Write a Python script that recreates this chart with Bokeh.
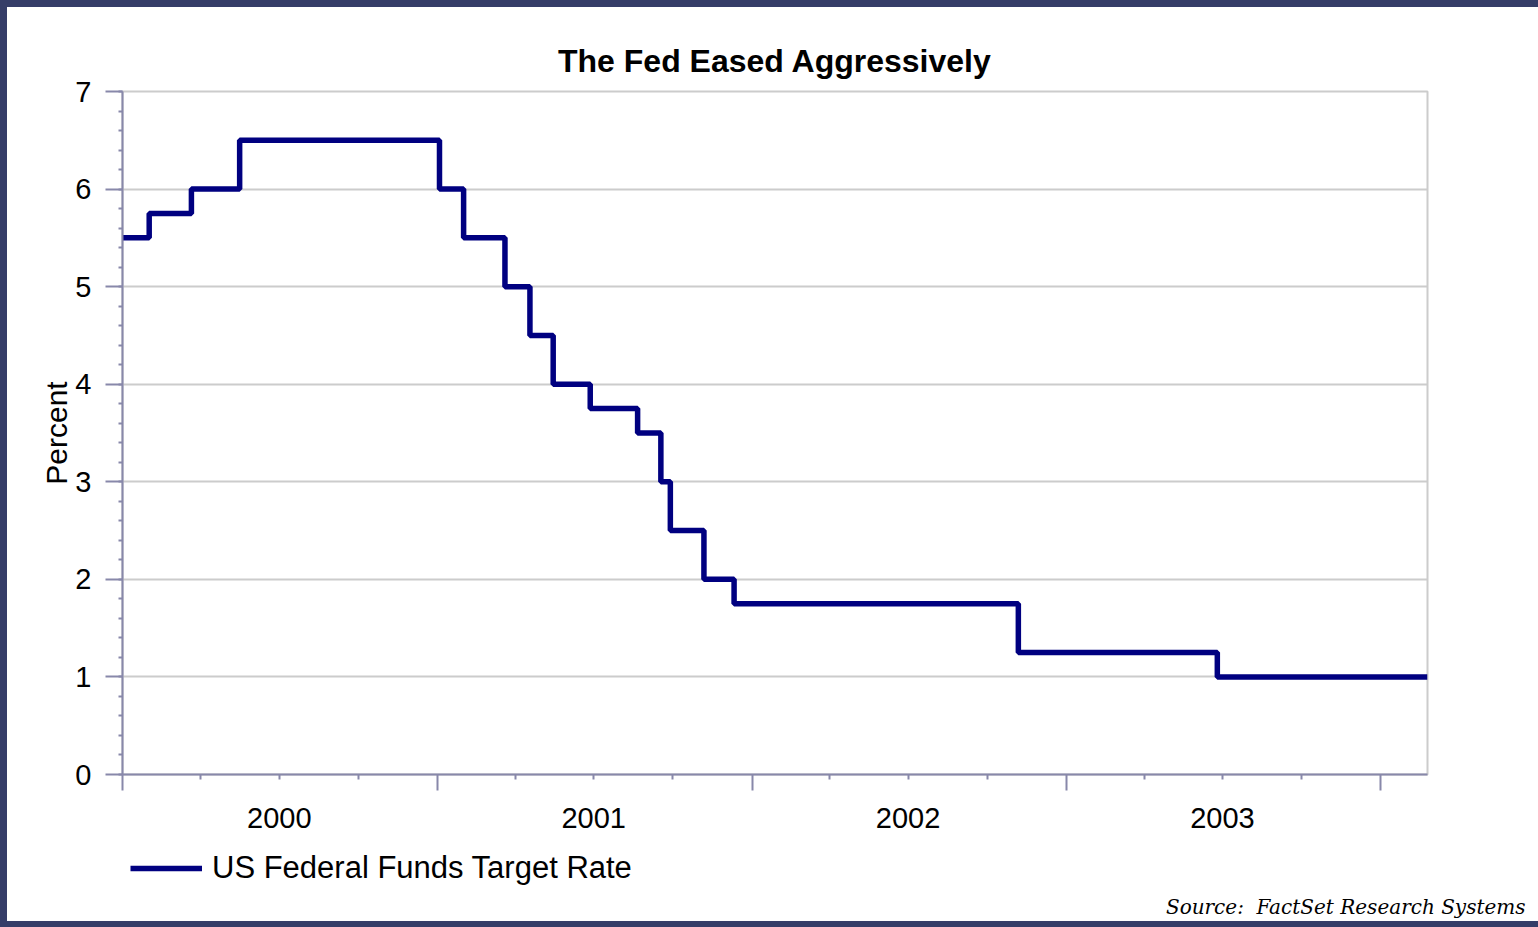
import pandas as pd
from bokeh.plotting import figure
from bokeh.layouts import column
from bokeh.models import (ColumnDataSource, Range1d, FixedTicker, DatetimeAxis,
                          DatetimeTickFormatter, Legend, LegendItem, Title, Plot, Step)
from bokeh.embed import file_html
from bokeh.resources import INLINE

# Fed funds target rate: dates of each change and the rate set on that date
dates = ["2000-01-01", "2000-02-01", "2000-03-21", "2000-05-16", "2001-01-03",
         "2001-01-31", "2001-03-20", "2001-04-18", "2001-05-15", "2001-06-27",
         "2001-08-21", "2001-09-17", "2001-09-28", "2001-11-06", "2001-12-11",
         "2002-11-06", "2003-06-25", "2004-02-24"]
rates = [5.5, 5.75, 6.0, 6.5, 6.0, 5.5, 5.0, 4.5, 4.0, 3.75, 3.5, 3.0, 2.5,
         2.0, 1.75, 1.25, 1.0, 1.0]

years = [2000, 2001, 2002, 2003]
y_ticks = [0, 1, 2, 3, 4, 5, 6, 7]
y_minor_step = 0.2

NAVY = "#000080"
AXIS = "#8888aa"
GRID = "#cccccc"
FONT = "Liberation Sans"
FS = "29px"


def ms(s):
    return pd.Timestamp(s).value / 1e6


x = pd.to_datetime(dates)
src = ColumnDataSource(dict(date=x, rate=rates))

year_starts = [ms(f"{y}-01-01") for y in years + [years[-1] + 1]]
quarters = [ms(f"{y}-{m:02d}-01") for y in years for m in (4, 7, 10)]
mid_years = [ms(f"{y}-07-01") for y in years]
y_minor = [round(i * y_minor_step, 1) for i in range(int(y_ticks[-1] / y_minor_step) + 1)]

# ---- main chart -------------------------------------------------------
p = figure(width=1531, height=840, x_axis_type="datetime",
           x_range=Range1d(ms(dates[0]), ms(dates[-1])),
           y_range=Range1d(y_ticks[0], y_ticks[-1]),
           output_backend="svg", toolbar_location=None,
           min_border_left=115, min_border_right=111,
           min_border_top=84, min_border_bottom=73)

p.background_fill_color = "white"
p.border_fill_color = "white"
p.outline_line_color = GRID
p.outline_line_width = 2

p.title.text = "The Fed Eased Aggressively"
p.title.align = "center"
p.title.text_font = FONT
p.title.text_font_size = "32px"
p.title.text_font_style = "bold"
p.title.text_color = "black"
p.title.standoff = 26

p.step("date", "rate", source=src, mode="after", line_color=NAVY, line_width=5.5)

p.xgrid.grid_line_color = None
p.ygrid.grid_line_color = GRID
p.ygrid.grid_line_width = 2
p.ygrid.ticker = FixedTicker(ticks=y_ticks)

ya = p.yaxis[0]
ya.ticker = FixedTicker(ticks=y_ticks, minor_ticks=y_minor)
ya.axis_line_color = AXIS
ya.axis_line_width = 2
ya.major_tick_line_color = AXIS
ya.major_tick_line_width = 2
ya.minor_tick_line_color = AXIS
ya.minor_tick_line_width = 2
ya.major_tick_in = 0
ya.major_tick_out = 17
ya.minor_tick_in = 0
ya.minor_tick_out = 4
ya.major_label_standoff = 14
ya.major_label_text_font = FONT
ya.major_label_text_font_size = FS
ya.major_label_text_color = "black"
ya.axis_label = "Percent"
ya.axis_label_text_font = FONT
ya.axis_label_text_font_size = "30px"
ya.axis_label_text_font_style = "normal"
ya.axis_label_text_color = "black"
ya.axis_label_standoff = -1

# x axis: tick marks only (years long, quarters short), labels not painted
xa = p.xaxis[0]
xa.ticker = FixedTicker(ticks=year_starts, minor_ticks=quarters)
xa.axis_line_color = AXIS
xa.axis_line_width = 2
xa.major_tick_line_color = AXIS
xa.major_tick_line_width = 2
xa.minor_tick_line_color = AXIS
xa.minor_tick_line_width = 2
xa.major_tick_in = 0
xa.major_tick_out = 16
xa.minor_tick_in = 0
xa.minor_tick_out = 5
xa.major_label_text_color = None
xa.major_label_text_font_size = "1px"
xa.major_label_standoff = 0

# x axis: year labels centred in each year
year_fmt = DatetimeTickFormatter(years="%Y", months="%Y", days="%Y", hours="%Y",
                                 minutes="%Y", seconds="%Y", milliseconds="%Y",
                                 microseconds="%Y", minsec="%Y", hourmin="%Y")
xb = DatetimeAxis(ticker=FixedTicker(ticks=mid_years), formatter=year_fmt)
xb.axis_line_color = None
xb.major_tick_line_color = None
xb.minor_tick_line_color = None
xb.major_tick_in = 0
xb.major_tick_out = 0
xb.major_label_standoff = 17
xb.major_label_text_font = FONT
xb.major_label_text_font_size = FS
xb.major_label_text_color = "black"
p.add_layout(xb, "below")

# ---- legend and source strip (bare plot: no axes, no grid) ----------------
q = Plot(width=1531, height=74, title=None,
         x_range=Range1d(0, 1), y_range=Range1d(0, 1),
         output_backend="svg", toolbar_location=None, min_border=0,
         outline_line_color=None, background_fill_color="white",
         border_fill_color="white")

# same series, kept hidden here; it only supplies the legend swatch
swatch = q.add_glyph(src, Step(x="date", y="rate", mode="after",
                               line_color=NAVY, line_width=5.5), visible=False)

legend = Legend(items=[LegendItem(label="US Federal Funds Target Rate", renderers=[swatch])],
                location=(8, 3), orientation="horizontal",
                border_line_color=None, background_fill_alpha=0,
                inactive_fill_alpha=0,
                glyph_width=72, glyph_height=34, label_standoff=10,
                label_text_font=FONT, label_text_font_size="31px",
                label_text_color="black", padding=0, margin=0, spacing=0)
q.add_layout(legend)

q.add_layout(Title(text="Source:\u00a0 FactSet Research Systems", align="right",
                   text_font="DejaVu Serif", text_font_style="italic",
                   text_font_size="20px", text_color="black",
                   offset=-98, standoff=6), "below")

# white sheet holding both plots, inside a dark frame
sheet = column(p, q, spacing=0, styles={"background-color": "white"})
page = column(sheet, styles={"background-color": "#353d68",
                             "padding": "7px 0px 6px 7px"})

open("out.html", "w").write(file_html(page, INLINE))
